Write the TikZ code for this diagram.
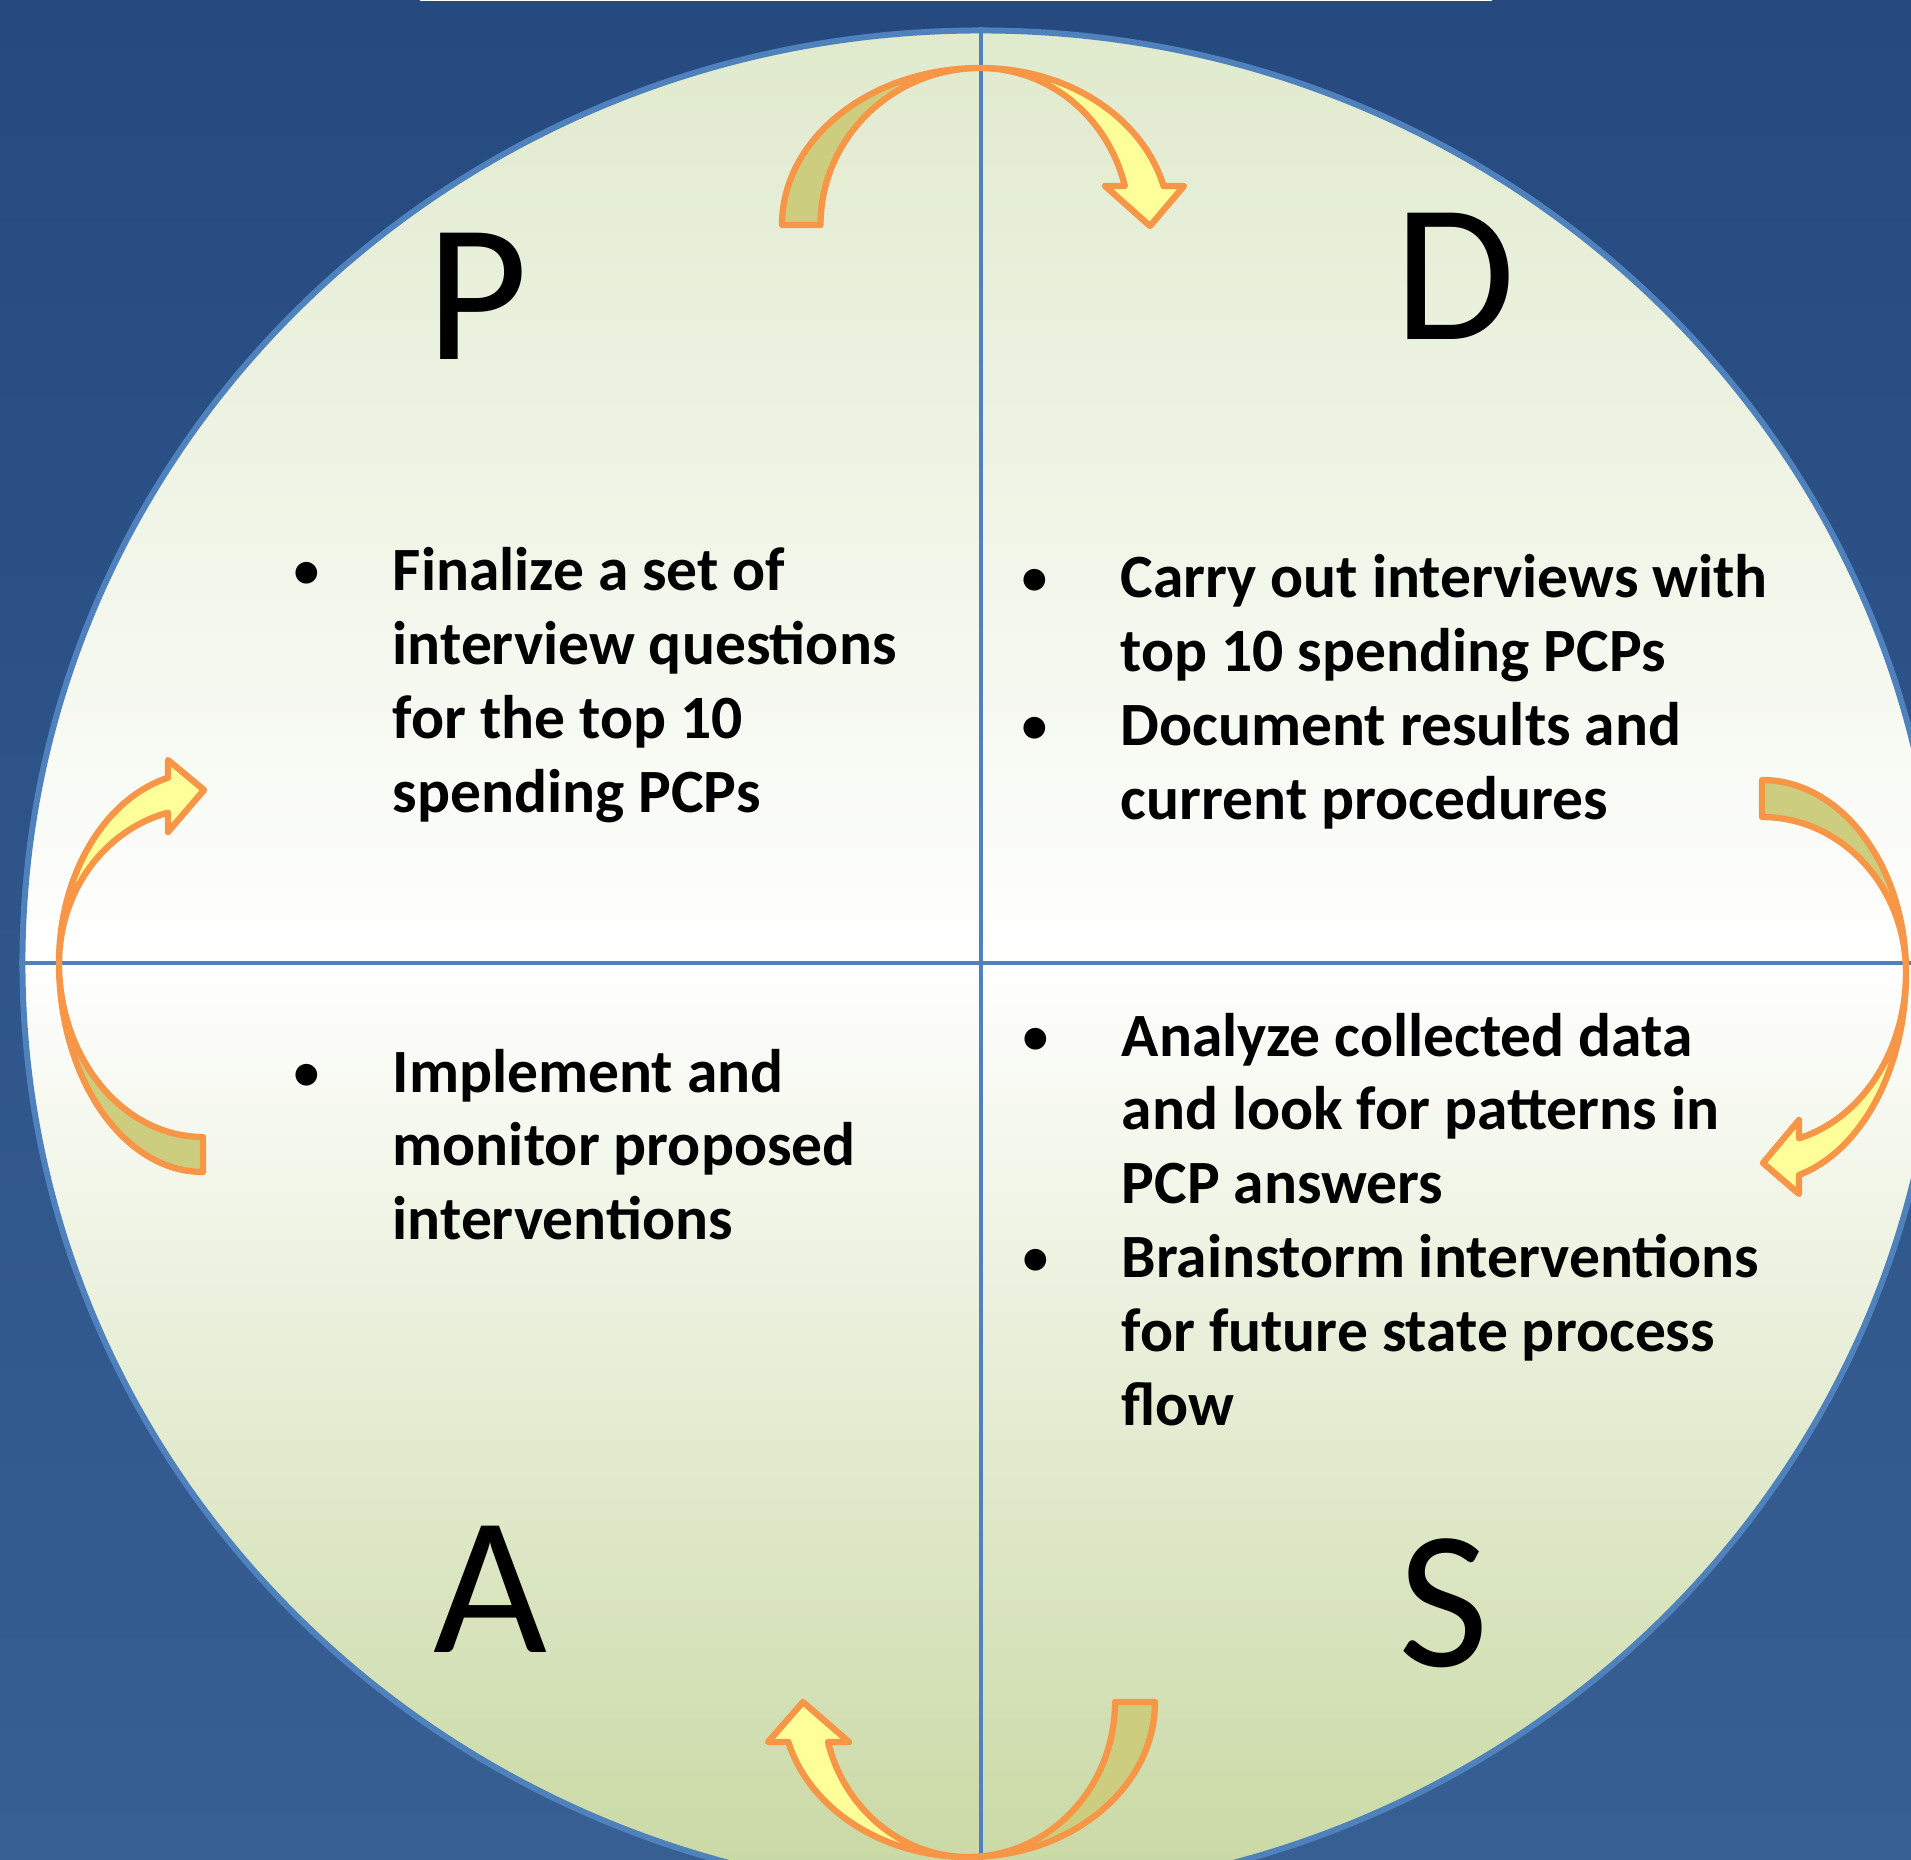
\documentclass[tikz,border=0pt]{standalone}
\usepackage{fontspec}
\setmainfont{Carlito}
\usetikzlibrary{shapes.geometric}

\definecolor{bgtop}{HTML}{264A7F}
\definecolor{bgbottom}{HTML}{375F94}
\definecolor{rim}{HTML}{4F81BD}
\definecolor{cycletop}{HTML}{E0EACD}
\definecolor{cyclebottom}{HTML}{C8D8A2}
\definecolor{arrowline}{HTML}{F79646}
\definecolor{arrowolive}{HTML}{CDCD80}
\definecolor{arrowyellow}{HTML}{FFFF99}

\newcommand{\dotmark}{\makebox[1.05cm][l]{\hspace{1.2pt}\mdseries\textbullet}}

\begin{document}
\begin{tikzpicture}[
    x=0.01cm, y=0.01cm,
    letter/.style={font=\fontsize{56}{60}\selectfont, anchor=base, inner sep=0pt},
    steps/.style={font=\bfseries\fontsize{17.5}{21}\selectfont, anchor=base west, inner sep=0pt},
    divider/.style={draw=rim, line width=1.4pt},
    arrowback/.style={draw=arrowline, fill=arrowolive, line width=1.8pt, line join=round},
    arrowfront/.style={draw=arrowline, fill=arrowyellow, line width=1.8pt, line join=round}
]
    \clip (0,0) rectangle (1911,1859);
    \fill[top color=bgtop, bottom color=bgbottom] (0,0) rectangle (1911,1859);
    \fill[white] (420,1857.5) rectangle (1492,1859);

    \node[ellipse, draw=rim, line width=1.7pt, inner sep=0pt,
          minimum width=19.16cm, minimum height=18.64cm,
          top color=cycletop, bottom color=cyclebottom, middle color=white] (cycle) at (981,896) {};

    \draw[divider] (cycle.north) -- (cycle.south);
    \draw[divider] (cycle.west) -- (cycle.east);

    \node[letter] (plan) at (477,1499) {P};
    \node[letter] (do) at (1455,1519) {D};
    \node[letter] (act) at (490,207) {A};
    \node[letter] (study) at (1444,193) {S};

    \node[steps] (plantext) at (287,1268) {\begin{tabular}[t]{@{}l@{}l@{}}
        \dotmark & Finalize a set of\\
                 & interview questions\\
                 & for the top 10\\
                 & spending PCPs
    \end{tabular}};
    \node[steps] (dotext) at (1015,1261) {\begin{tabular}[t]{@{}l@{}l@{}}
        \dotmark & Carry out interviews with\\
                 & top 10 spending PCPs\\
        \dotmark & Document results and\\
                 & current procedures
    \end{tabular}};
    \node[steps] (acttext) at (287,767) {\begin{tabular}[t]{@{}l@{}l@{}}
        \dotmark & Implement and\\
                 & monitor proposed\\
                 & interventions
    \end{tabular}};
    \node[steps] (studytext) at (1016,803) {\begin{tabular}[t]{@{}l@{}l@{}}
        \dotmark & Analyze collected data\\
                 & and look for patterns in\\
                 & PCP answers\\
        \dotmark & Brainstorm interventions\\
                 & for future state process\\
                 & flow
    \end{tabular}};

    % P to D
    \draw[arrowback] (782,1634) arc[start angle=180, end angle=90, x radius=198.5, y radius=157]
        arc[start angle=90, end angle=180, x radius=160, y radius=157] -- cycle;
    \draw[arrowfront] (980.5,1791) arc[start angle=90, end angle=14.4, x radius=189, y radius=157]
        -- (1184,1673) -- (1150,1633) -- (1105,1673) -- (1124.8,1673)
        arc[start angle=14.4, end angle=90, x radius=149, y radius=157] -- cycle;

    % D to S
    \draw[arrowback] (1906,886) arc[start angle=0, end angle=90, x radius=144, y radius=193]
        -- (1762,1042) arc[start angle=90, end angle=0, x radius=144, y radius=156] -- cycle;
    \draw[arrowfront] (1906,886) arc[start angle=0, end angle=-75.1, x radius=144, y radius=209]
        -- (1799,665) -- (1763,696) -- (1799,739) -- (1799,720.7)
        arc[start angle=-75.1, end angle=0, x radius=144, y radius=171] -- cycle;

    % S to A
    \draw[arrowback] (968,2) arc[start angle=270, end angle=360, x radius=187, y radius=155]
        -- (1115,157) arc[start angle=0, end angle=-90, x radius=147, y radius=155] -- cycle;
    \draw[arrowfront] (968,2) arc[start angle=270, end angle=194.95, x radius=186, y radius=155]
        -- (768,117) -- (803,157) -- (849,117) -- (827.9,117)
        arc[start angle=194.95, end angle=270, x radius=145, y radius=155] -- cycle;

    % A to P
    \draw[arrowback] (59,896) arc[start angle=180, end angle=270, x radius=144, y radius=209]
        -- (203,722) arc[start angle=270, end angle=180, x radius=144, y radius=174] -- cycle;
    \draw[arrowfront] (59,896) arc[start angle=180, end angle=104.1, x radius=144, y radius=191]
        -- (168,1099) -- (204,1069) -- (168,1027) -- (168,1046.3)
        arc[start angle=104.1, end angle=180, x radius=144, y radius=155] -- cycle;
\end{tikzpicture}
\end{document}
